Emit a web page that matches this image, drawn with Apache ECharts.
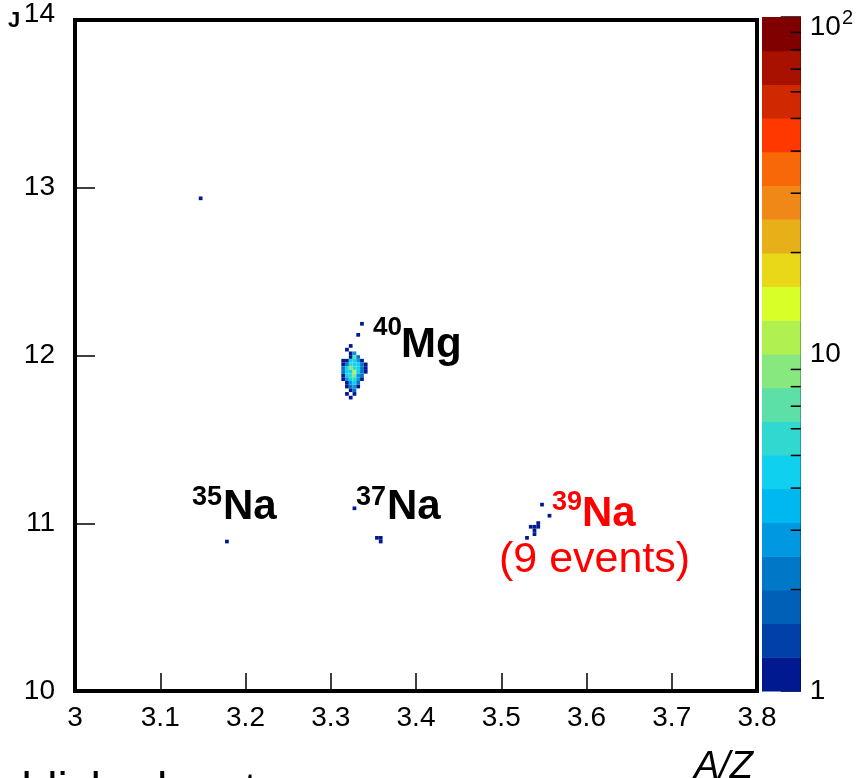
<!DOCTYPE html>
<html><head><meta charset="utf-8">
<script src="https://cdn.jsdelivr.net/npm/echarts@6/dist/echarts.min.js"></script>
<style>html,body{margin:0;padding:0;background:#fff}#c{width:856px;height:778px}</style>
</head><body><div id="c"></div>
<script>
// ---- data ----
const xTickLabels = ['3','3.1','3.2','3.3','3.4','3.5','3.6','3.7','3.8'];
const yTickLabels = ['10','11','12','13','14'];
const zTickLabels = ['1','10','10|2'];
const zMinorTicks = [2,3,4,5,6,7,8,9,20,30,40,50,60,70,80,90];
const palette = ['#001890','#0040a8','#0060b8','#0078c8','#0098e0','#00b8f0','#10d0f0','#30d8d0',
                 '#5ce0a8','#88e880','#b0f050','#d8ff28','#e8d818','#e8b018','#f08818','#f86808',
                 '#ff3800','#d02800','#a81000','#800000'];
const binWidthAZ = 0.0044;
const binWidthZ = 0.022;
// [A/Z, Z, counts]
const mg40Cells = [
  [3.3366,12.189,1],[3.3322,12.123,1],[3.3234,12.057,1],[3.3190,12.035,1],
  [3.3234,12.013,1],[3.3278,12.013,3],
  [3.3234,11.991,1],[3.3278,11.991,7],[3.3322,11.991,2],
  [3.3146,11.969,1],[3.3190,11.969,1],[3.3234,11.969,5],[3.3278,11.969,5],[3.3322,11.969,3],[3.3366,11.969,1],
  [3.3146,11.947,1],[3.3190,11.947,2],[3.3234,11.947,6],[3.3278,11.947,4],[3.3322,11.947,4],[3.3366,11.947,2],[3.3410,11.947,1],
  [3.3146,11.925,2],[3.3190,11.925,4],[3.3234,11.925,8],[3.3278,11.925,6],[3.3322,11.925,4],[3.3366,11.925,2],[3.3410,11.925,1],
  [3.3146,11.903,2],[3.3190,11.903,5],[3.3234,11.903,4],[3.3278,11.903,10],[3.3322,11.903,5],[3.3366,11.903,2],[3.3410,11.903,1],
  [3.3146,11.881,1],[3.3190,11.881,4],[3.3234,11.881,6],[3.3278,11.881,9],[3.3322,11.881,3],[3.3366,11.881,2],
  [3.3146,11.859,1],[3.3190,11.859,3],[3.3234,11.859,5],[3.3278,11.859,6],[3.3322,11.859,3],[3.3366,11.859,1],
  [3.3190,11.837,1],[3.3234,11.837,3],[3.3278,11.837,4],[3.3322,11.837,2],
  [3.3190,11.815,1],[3.3234,11.815,2],[3.3278,11.815,3],[3.3322,11.815,1],
  [3.3234,11.793,1],[3.3278,11.793,2],
  [3.3190,11.771,1],[3.3278,11.771,1],
  [3.3234,11.749,1]
];
const otherCells = [[3.1474,12.937,1],[3.1782,10.891,1]];
const na37Cells = [[3.3278,11.089,1],[3.3542,10.913,1],[3.3586,10.913,1],[3.3586,10.891,1]];
const na39Cells = [[3.5478,11.111,1],[3.5566,11.045,1],[3.5346,10.979,1],[3.5390,10.979,1],[3.5434,10.979,1],
                   [3.5434,11.001,1],[3.5390,10.957,1],[3.5390,10.935,1],[3.5302,10.913,1]];
const cells = [].concat(mg40Cells, otherCells, na37Cells, na39Cells);

// ---- chart ----
const FONT = "'Liberation Sans', Arial, sans-serif";
const chart = echarts.init(document.getElementById('c'), null, {renderer: 'canvas'});

function colorFor(c) {
  let k = Math.floor(Math.log10(c) * palette.length / 2 + 1e-9);
  k = Math.max(0, Math.min(palette.length - 1, k));
  return palette[k];
}

function txt(text, x, baseline, size, opts) {
  opts = opts || {};
  return {
    type: 'text', z: 100,
    style: {
      text: text, x: x, y: baseline - 0.35 * size,
      fill: opts.color || '#000',
      font: (opts.style || '') + ' ' + (opts.weight || 'normal') + ' ' + size + 'px ' + FONT,
      align: opts.align || 'left', verticalAlign: 'middle'
    }
  };
}

const option = {
  animation: false,
  backgroundColor: '#fff',
  grid: [
    {left: 75, right: 99, top: 17, bottom: 87, show: true, borderColor: '#000', borderWidth: 4, backgroundColor: 'transparent'},
    {left: 762, right: 54, top: 17, bottom: 87}
  ],
  xAxis: [
    {gridIndex: 0, type: 'value', min: 3, max: 3.8, interval: 0.1,
     axisLine: {show: false},
     axisTick: {show: true, inside: true, length: 18, lineStyle: {color: '#000', width: 1.5}},
     axisLabel: {color: '#000', fontSize: 28, fontFamily: FONT, margin: 13,
       formatter: v => xTickLabels[Math.round((v - 3) / 0.1)]},
     splitLine: {show: false}},
    {gridIndex: 1, type: 'value', min: 0, max: 1, show: false}
  ],
  yAxis: [
    {gridIndex: 0, type: 'value', min: 10, max: 14, interval: 1,
     axisLine: {show: false},
     axisTick: {show: true, inside: true, length: 20, lineStyle: {color: '#000', width: 1.5}},
     axisLabel: {color: '#000', fontSize: 28, fontFamily: FONT, margin: 20,
       formatter: v => {
         const s = yTickLabels[Math.round(v - 10)];
         return v >= 14 ? '{t|' + s + '}' : s;
       },
       rich: {t: {fontSize: 28, fontFamily: FONT, color: '#000', padding: [0, 0, 12, 0]}}},
     splitLine: {show: false}},
    {gridIndex: 1, type: 'value', min: 0, max: 2, interval: 1, position: 'right',
     axisLine: {show: true, onZero: false, lineStyle: {color: '#000', width: 1}},
     axisTick: {show: true, inside: true, length: 20, lineStyle: {color: '#000', width: 1.5}},
     axisLabel: {color: '#000', fontSize: 28, fontFamily: FONT, margin: 9,
       formatter: v => {
         const s = zTickLabels[Math.round(v)].split('|');
         return s.length > 1 ? '{n|' + s[0] + '}{s|' + s[1] + '}' : s[0];
       },
       rich: {
         n: {fontSize: 28, fontFamily: FONT, color: '#000', padding: [20, 0, 0, 0]},
         s: {fontSize: 20, fontFamily: FONT, color: '#000', verticalAlign: 'top', padding: [15, 0, 0, 1]}
       }},
     splitLine: {show: false}}
  ],
  series: [
    {type: 'custom', xAxisIndex: 0, yAxisIndex: 0, data: cells, z: 5,
     renderItem: function (params, api) {
       const x = api.value(0), y = api.value(1), c = api.value(2);
       const p0 = api.coord([x - binWidthAZ / 2, y + binWidthZ / 2]);
       const p1 = api.coord([x + binWidthAZ / 2, y - binWidthZ / 2]);
       return {type: 'rect', shape: {x: p0[0], y: p0[1], width: p1[0] - p0[0], height: p1[1] - p0[1]},
               style: {fill: colorFor(c)}};
     }},
    {type: 'custom', xAxisIndex: 1, yAxisIndex: 1, data: palette.map((c, i) => [i]), z: 1,
     renderItem: function (params, api) {
       const i = api.value(0);
       const n = palette.length;
       const p0 = api.coord([0, (i + 1) * 2 / n]);
       const p1 = api.coord([1, i * 2 / n]);
       return {type: 'rect', shape: {x: p0[0], y: p0[1], width: p1[0] - p0[0], height: p1[1] - p0[1] + 0.5},
               style: {fill: palette[i]}};
     }},
    {type: 'custom', xAxisIndex: 1, yAxisIndex: 1, data: zMinorTicks.map(v => [Math.log10(v)]), z: 6,
     renderItem: function (params, api) {
       const p = api.coord([1, api.value(0)]);
       return {type: 'line', shape: {x1: p[0], y1: p[1], x2: p[0] - 10, y2: p[1]},
               style: {stroke: '#000', lineWidth: 1.5}};
     }}
  ],
  graphic: [
    txt('40', 373, 337, 26, {weight: 'bold'}),
    txt('Mg', 401, 360, 42, {weight: 'bold'}),
    txt('35', 192, 507, 27, {weight: 'bold'}),
    txt('Na', 223, 522, 42, {weight: 'bold'}),
    txt('37', 356, 507, 27, {weight: 'bold'}),
    txt('Na', 387, 522, 42, {weight: 'bold'}),
    txt('39', 552, 512, 27, {weight: 'bold', color: '#ff0000'}),
    txt('Na', 582, 529, 42, {weight: 'bold', color: '#ff0000'}),
    txt('(9 events)', 499, 575, 43, {color: '#ff0000'}),
    txt('A/Z', 753, 781, 38, {style: 'italic', align: 'right'}),
    txt('ablished up to now', -4, 808, 46),
    txt('J', 8, 29, 22, {weight: 'bold'})
  ]
};
chart.setOption(option);
</script>
</body></html>
